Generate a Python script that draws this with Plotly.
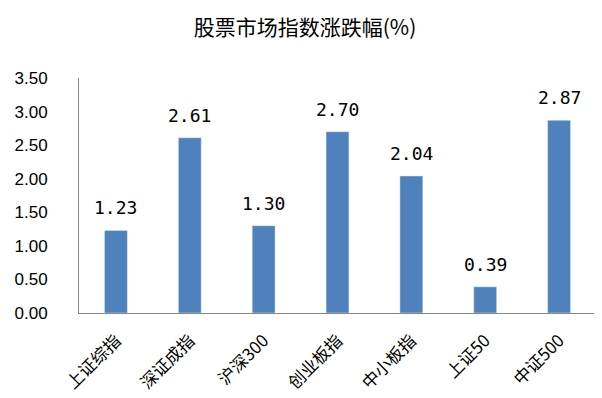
import plotly.graph_objects as go

categories = ["上证综指", "深证成指", "沪深300", "创业板指", "中小板指", "上证50", "中证500"]
values = [1.23, 2.61, 1.30, 2.70, 2.04, 0.39, 2.87]
tick_vals = [0, 0.5, 1.0, 1.5, 2.0, 2.5, 3.0, 3.5]
tick_text = ["0.00", "0.50", "1.00", "1.50", "2.00", "2.50", "3.00", "3.50"]

fig = go.Figure(go.Bar(
    x=categories, y=values,
    marker_color="#4F81BD",
    cliponaxis=False,
))
for c, v in zip(categories, values):
    fig.add_annotation(x=c, y=v, text=f"{v:.2f}", showarrow=False, yanchor="bottom",
                       yshift=10, font=dict(size=18, color="#000000", family="DejaVu Sans Mono"))
fig.update_layout(
    width=594, height=390,
    margin=dict(l=71, r=6, t=70, b=85, autoexpand=False),
    paper_bgcolor="white", plot_bgcolor="white",
    bargap=0.69,
    showlegend=False,
    title=dict(text="股票市场指数涨跌幅(%)", x=0.5, xanchor="center", y=1 - 20 / 390, yanchor="middle",
               yref="container", font=dict(size=21, color="#000000", family="Noto Sans CJK SC")),
    font=dict(family="Noto Sans CJK SC", color="#000000"),
)
fig.update_yaxes(range=[0, 3.5], tickvals=tick_vals, ticktext=tick_text, showgrid=False,
                 showline=True, linecolor="#868686", linewidth=1, ticks="", ticklabelstandoff=27,
                 tickfont=dict(size=17, family="Liberation Sans"), zeroline=False, automargin=False)
fig.update_xaxes(showline=True, linecolor="#868686", linewidth=1, tickangle=-45,
                 tickfont=dict(size=17, family="Noto Sans CJK SC"), showgrid=False, automargin=False,
                 ticklabelstandoff=10)
fig.write_html("out.html")
